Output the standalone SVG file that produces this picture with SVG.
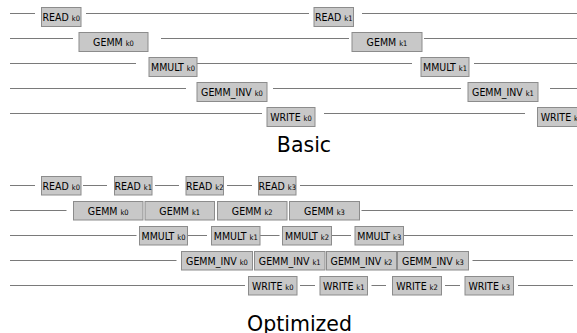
<svg xmlns="http://www.w3.org/2000/svg" width="577" height="333" viewBox="0 0 577 333">
  <style>
    .bg { fill: #ffffff; }
    .box rect { fill: #c8c8c8; stroke: #8c8c8c; stroke-width: 1; }
    .box text { font-family: "DejaVu Sans Condensed", "DejaVu Sans", sans-serif; font-stretch: condensed; font-size: 10.5px; fill: #000; text-anchor: middle; }
    .box tspan.k { font-size: 7.5px; }
    .track line { stroke: #7a7a7a; stroke-width: 1; }
    .title { font-family: "DejaVu Sans", sans-serif; font-size: 20.5px; fill: #000; text-anchor: middle; }
  </style>
  <rect class="bg" x="0" y="0" width="577" height="333"/>

  <!-- timeline tracks -->
  <g id="connectors" class="track">
    <!-- Basic -->
    <line x1="10" y1="13.5" x2="35" y2="13.5"/>
    <line x1="86" y1="13.5" x2="309" y2="13.5"/>
    <line x1="362" y1="13.5" x2="577" y2="13.5"/>
    <line x1="10" y1="38.5" x2="73" y2="38.5"/>
    <line x1="161" y1="38.5" x2="349" y2="38.5"/>
    <line x1="424" y1="38.5" x2="577" y2="38.5"/>
    <line x1="10" y1="63.5" x2="136" y2="63.5"/>
    <line x1="197" y1="63.5" x2="412" y2="63.5"/>
    <line x1="474" y1="63.5" x2="577" y2="63.5"/>
    <line x1="10" y1="88.5" x2="186" y2="88.5"/>
    <line x1="273" y1="88.5" x2="461" y2="88.5"/>
    <line x1="550" y1="88.5" x2="577" y2="88.5"/>
    <line x1="10" y1="113.5" x2="262" y2="113.5"/>
    <line x1="324" y1="113.5" x2="525" y2="113.5"/>
    <!-- Optimized -->
    <line x1="10" y1="185.5" x2="35" y2="185.5"/>
    <line x1="83" y1="185.5" x2="107" y2="185.5"/>
    <line x1="155" y1="185.5" x2="179" y2="185.5"/>
    <line x1="227" y1="185.5" x2="252" y2="185.5"/>
    <line x1="300" y1="185.5" x2="573" y2="185.5"/>
    <line x1="10" y1="210.5" x2="66.5" y2="210.5"/>
    <line x1="361.5" y1="210.5" x2="573" y2="210.5"/>
    <line x1="10" y1="235.5" x2="136.5" y2="235.5"/>
    <line x1="187.5" y1="235.5" x2="207" y2="235.5"/>
    <line x1="260" y1="235.5" x2="279.5" y2="235.5"/>
    <line x1="331.5" y1="235.5" x2="351" y2="235.5"/>
    <line x1="403.5" y1="235.5" x2="573" y2="235.5"/>
    <line x1="10" y1="260.5" x2="176.5" y2="260.5"/>
    <line x1="472.5" y1="260.5" x2="573" y2="260.5"/>
    <line x1="10" y1="285.5" x2="245" y2="285.5"/>
    <line x1="300" y1="285.5" x2="315" y2="285.5"/>
    <line x1="371.5" y1="285.5" x2="386" y2="285.5"/>
    <line x1="445" y1="285.5" x2="460" y2="285.5"/>
    <line x1="518" y1="285.5" x2="573" y2="285.5"/>
  </g>

  <!-- Basic schedule -->
  <g id="b-read-k0" class="box"><rect x="41.5" y="7.5" width="39.5" height="19"/><text x="61.25" y="21">READ <tspan class="k">k0</tspan></text></g>
  <g id="b-read-k1" class="box"><rect x="314" y="7.5" width="39.5" height="19"/><text x="333.75" y="21">READ <tspan class="k">k1</tspan></text></g>
  <g id="b-gemm-k0" class="box"><rect x="79" y="32.5" width="69" height="19"/><text x="113.5" y="46">GEMM <tspan class="k">k0</tspan></text></g>
  <g id="b-gemm-k1" class="box"><rect x="352" y="32.5" width="70" height="19"/><text x="387" y="46">GEMM <tspan class="k">k1</tspan></text></g>
  <g id="b-mmult-k0" class="box"><rect x="149" y="57.5" width="48" height="19"/><text x="173" y="71">MMULT <tspan class="k">k0</tspan></text></g>
  <g id="b-mmult-k1" class="box"><rect x="421" y="57.5" width="48" height="19"/><text x="445" y="71">MMULT <tspan class="k">k1</tspan></text></g>
  <g id="b-gemminv-k0" class="box"><rect x="197" y="82.5" width="70" height="19"/><text x="232" y="96">GEMM_INV <tspan class="k">k0</tspan></text></g>
  <g id="b-gemminv-k1" class="box"><rect x="468" y="82.5" width="70" height="19"/><text x="503" y="96">GEMM_INV <tspan class="k">k1</tspan></text></g>
  <g id="b-write-k0" class="box"><rect x="267" y="107.5" width="48" height="19"/><text x="291" y="121">WRITE <tspan class="k">k0</tspan></text></g>
  <g id="b-write-k1" class="box"><rect x="537.5" y="107.5" width="48" height="19"/><text x="561.5" y="121">WRITE <tspan class="k">k1</tspan></text></g>

  <text id="title-basic" class="title" x="304" y="151.5">Basic</text>

  <!-- Optimized schedule -->
  <g id="o-read-k0" class="box"><rect x="41.5" y="176.5" width="39.5" height="18.5"/><text x="61.25" y="189.5">READ <tspan class="k">k0</tspan></text></g>
  <g id="o-read-k1" class="box"><rect x="114.5" y="176.5" width="37.5" height="18.5"/><text x="133.25" y="189.5">READ <tspan class="k">k1</tspan></text></g>
  <g id="o-read-k2" class="box"><rect x="186" y="176.5" width="37.5" height="18.5"/><text x="204.75" y="189.5">READ <tspan class="k">k2</tspan></text></g>
  <g id="o-read-k3" class="box"><rect x="258.5" y="176.5" width="37.5" height="18.5"/><text x="277.25" y="189.5">READ <tspan class="k">k3</tspan></text></g>

  <g id="o-gemm-k0" class="box"><rect x="73.5" y="201.5" width="69.5" height="18.5"/><text x="108.25" y="214.5">GEMM <tspan class="k">k0</tspan></text></g>
  <g id="o-gemm-k1" class="box"><rect x="145" y="201.5" width="69.5" height="18.5"/><text x="179.75" y="214.5">GEMM <tspan class="k">k1</tspan></text></g>
  <g id="o-gemm-k2" class="box"><rect x="217.5" y="201.5" width="69.5" height="18.5"/><text x="252.25" y="214.5">GEMM <tspan class="k">k2</tspan></text></g>
  <g id="o-gemm-k3" class="box"><rect x="289.5" y="201.5" width="70" height="18.5"/><text x="324.5" y="214.5">GEMM <tspan class="k">k3</tspan></text></g>

  <g id="o-mmult-k0" class="box"><rect x="139.5" y="226.5" width="48" height="18.5"/><text x="163.5" y="239.5">MMULT <tspan class="k">k0</tspan></text></g>
  <g id="o-mmult-k1" class="box"><rect x="211.5" y="226.5" width="48.5" height="18.5"/><text x="235.75" y="239.5">MMULT <tspan class="k">k1</tspan></text></g>
  <g id="o-mmult-k2" class="box"><rect x="282.5" y="226.5" width="49" height="18.5"/><text x="307" y="239.5">MMULT <tspan class="k">k2</tspan></text></g>
  <g id="o-mmult-k3" class="box"><rect x="355" y="226.5" width="48.5" height="18.5"/><text x="379.25" y="239.5">MMULT <tspan class="k">k3</tspan></text></g>

  <g id="o-gemminv-k0" class="box"><rect x="181.5" y="251.5" width="71" height="18.5"/><text x="217" y="264.5">GEMM_INV <tspan class="k">k0</tspan></text></g>
  <g id="o-gemminv-k1" class="box"><rect x="254.5" y="251.5" width="70.5" height="18.5"/><text x="289.75" y="264.5">GEMM_INV <tspan class="k">k1</tspan></text></g>
  <g id="o-gemminv-k2" class="box"><rect x="326.5" y="251.5" width="70" height="18.5"/><text x="361.5" y="264.5">GEMM_INV <tspan class="k">k2</tspan></text></g>
  <g id="o-gemminv-k3" class="box"><rect x="397.5" y="251.5" width="71" height="18.5"/><text x="433" y="264.5">GEMM_INV <tspan class="k">k3</tspan></text></g>

  <g id="o-write-k0" class="box"><rect x="248.5" y="276.5" width="48.5" height="18.5"/><text x="272.75" y="289.5">WRITE <tspan class="k">k0</tspan></text></g>
  <g id="o-write-k1" class="box"><rect x="320" y="276.5" width="47.5" height="18.5"/><text x="343.75" y="289.5">WRITE <tspan class="k">k1</tspan></text></g>
  <g id="o-write-k2" class="box"><rect x="392.5" y="276.5" width="49" height="18.5"/><text x="417" y="289.5">WRITE <tspan class="k">k2</tspan></text></g>
  <g id="o-write-k3" class="box"><rect x="465" y="276.5" width="48.5" height="18.5"/><text x="489.25" y="289.5">WRITE <tspan class="k">k3</tspan></text></g>

  <text id="title-optimized" class="title" x="299.5" y="330.5">Optimized</text>
</svg>
